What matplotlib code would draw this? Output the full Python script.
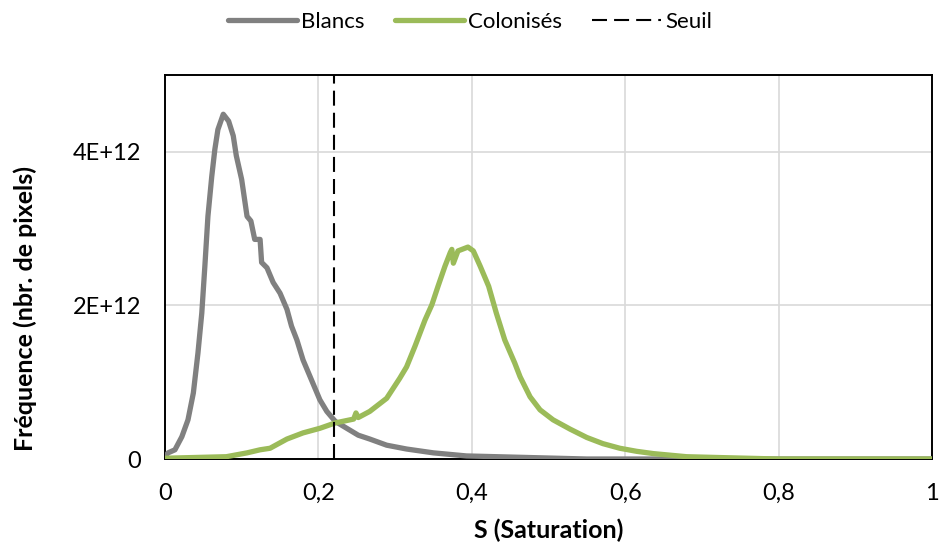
import matplotlib.pyplot as plt

plt.rcParams['font.family'] = ['Lato', 'DejaVu Sans']

# values (S, frequency in units of 1E+12)
s_blancs = [0.0, 0.004, 0.013, 0.022, 0.030, 0.037, 0.043, 0.048, 0.052, 0.056,
            0.061, 0.065, 0.069, 0.076, 0.083, 0.089, 0.093, 0.100, 0.107, 0.112,
            0.117, 0.124, 0.126, 0.133, 0.141, 0.150, 0.159, 0.165, 0.172, 0.180,
            0.191, 0.202, 0.211, 0.222, 0.237, 0.252, 0.267, 0.289, 0.315, 0.350,
            0.393, 0.472, 0.55, 1.0]
f_blancs = [0.03, 0.08, 0.12, 0.29, 0.51, 0.86, 1.38, 1.9, 2.51, 3.16,
            3.68, 4.03, 4.29, 4.49, 4.40, 4.21, 3.95, 3.64, 3.16, 3.10,
            2.86, 2.86, 2.56, 2.49, 2.30, 2.16, 1.95, 1.73, 1.55, 1.29,
            1.03, 0.77, 0.62, 0.49, 0.40, 0.31, 0.26, 0.18, 0.13, 0.08,
            0.04, 0.02, 0.0, 0.0]

s_colon = [0.0, 0.08, 0.107, 0.124, 0.137, 0.159, 0.180, 0.202, 0.222, 0.246,
           0.249, 0.252, 0.267, 0.289, 0.306, 0.315, 0.326, 0.339, 0.348, 0.356,
           0.365, 0.372, 0.374, 0.376, 0.382, 0.395, 0.402, 0.411, 0.422, 0.432,
           0.443, 0.456, 0.463, 0.476, 0.489, 0.506, 0.528, 0.550, 0.571, 0.593,
           0.615, 0.637, 0.680, 0.719, 0.80, 1.0]
f_colon = [0.01, 0.03, 0.08, 0.12, 0.14, 0.26, 0.34, 0.40, 0.47, 0.52,
           0.60, 0.54, 0.62, 0.79, 1.05, 1.20, 1.47, 1.81, 2.01, 2.25,
           2.51, 2.69, 2.73, 2.55, 2.71, 2.76, 2.71, 2.51, 2.25, 1.90,
           1.55, 1.25, 1.07, 0.81, 0.64, 0.51, 0.39, 0.28, 0.20, 0.14,
           0.10, 0.07, 0.03, 0.02, 0.0, 0.0]

seuil = 0.22
y_ticks = [0, 2e12, 4e12]
y_labels = ['0', '2E+12', '4E+12']
x_ticks = [0, 0.2, 0.4, 0.6, 0.8, 1.0]
x_labels = ['0', '0,2', '0,4', '0,6', '0,8', '1']

fig = plt.figure(figsize=(9.4, 5.48), dpi=100)
ax = fig.add_axes([0.1755, 0.1624, 0.816, 0.7006])

ax.plot(s_blancs, [v * 1e12 for v in f_blancs], color='#808080', lw=3.8,
        label='Blancs', solid_joinstyle='round', solid_capstyle='round', zorder=3)
ax.plot(s_colon, [v * 1e12 for v in f_colon], color='#9BBB59', lw=3.8,
        label='Colonisés', solid_joinstyle='round', solid_capstyle='round', zorder=3)
ax.axvline(seuil, color='black', lw=1.5, ls=(0, (7.2, 3.4)), label='Seuil', zorder=4)

ax.set_xlim(0, 1)
ax.set_ylim(0, 5e12)
ax.set_xticks(x_ticks)
ax.set_xticklabels(x_labels)
ax.set_yticks(y_ticks)
ax.set_yticklabels(y_labels)
ax.tick_params(length=0, labelsize=17, pad=17)
ax.grid(True, color='#d9d9d9', lw=1.2)
ax.set_axisbelow(True)
for side in ['left', 'bottom', 'top', 'right']:
    ax.spines[side].set_color('black')
    ax.spines[side].set_linewidth(1.4)

ax.set_xlabel('S (Saturation)', fontsize=18, fontweight='bold', labelpad=11)
ax.set_ylabel('Fréquence (nbr. de pixels)', fontsize=18, fontweight='bold')
ax.yaxis.set_label_coords(-0.167, 0.393)

fig.legend(loc='upper center', bbox_to_anchor=(0.5, 1.015), ncol=3, frameon=False,
           fontsize=16, handlelength=3.1, handletextpad=0.2, columnspacing=1.35)

plt.savefig('out.png', dpi=100)
